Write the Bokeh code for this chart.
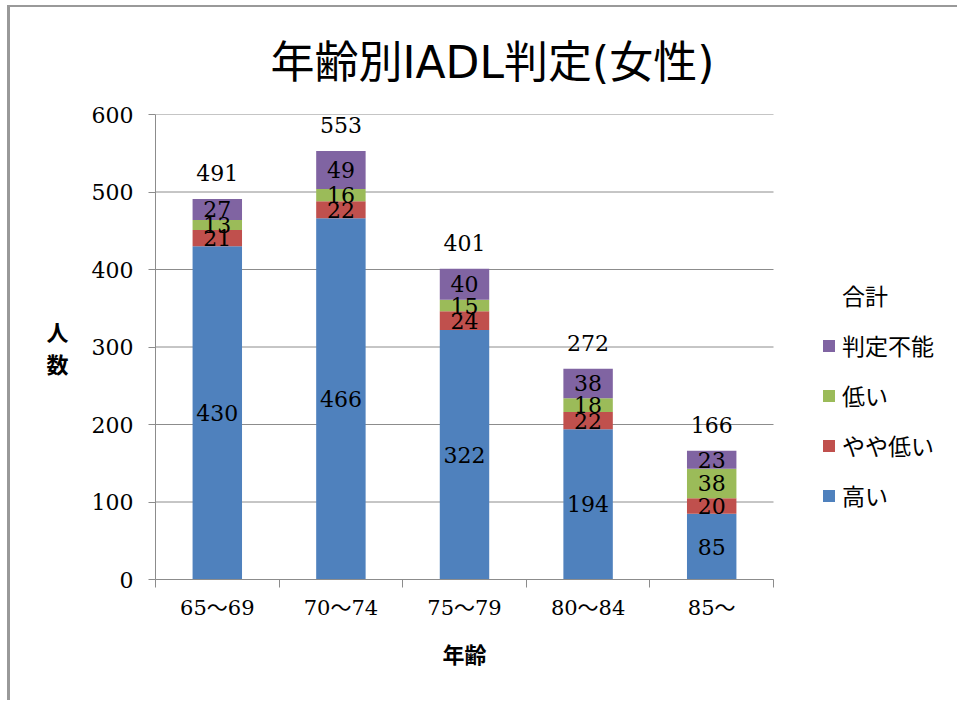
from bokeh.plotting import figure
from bokeh.models import Range1d, FixedTicker, Legend, LegendItem, ColumnDataSource, Title
from bokeh.core.properties import value
from bokeh.embed import file_html
from bokeh.resources import INLINE

categories = ["65～69", "70～74", "75～79", "80～84", "85～"]
high = [430, 466, 322, 194, 85]
slightly_low = [21, 22, 24, 22, 20]
low = [13, 16, 15, 18, 38]
undetermined = [27, 49, 40, 38, 23]
series_names = ["高い", "やや低い", "低い", "判定不能"]
series_keys = ["high", "slightly_low", "low", "undetermined"]
total_name = "合計"
colors = ["#4F81BD", "#C0504D", "#9BBB59", "#8064A2"]
y_ticks = [0, 100, 200, 300, 400, 500, 600]

SERIF = "DejaVu Serif, Noto Sans CJK JP"
SANS = "Noto Sans CJK JP"
TITLE_FONT = "DejaVu Sans, Noto Sans CJK JP"

n = len(categories)
xs = list(range(1, n + 1))
series_values = [high, slightly_low, low, undetermined]
data = {"x": xs}
for k, v in zip(series_keys, series_values):
    data[k] = v
src = ColumnDataSource(data)

FIG_W, FIG_H = 950, 695
LEFT, TOP, BOTTOM = 145, 107, 123
CAT_PX = 123.6
x_end = 0.5 + (FIG_W - LEFT) / CAT_PX

p = figure(width=FIG_W, height=FIG_H, output_backend="svg", toolbar_location=None,
           x_range=Range1d(0.5, x_end), y_range=Range1d(0, 600),
           min_border_left=LEFT, min_border_right=0, min_border_top=TOP, min_border_bottom=BOTTOM)
p.styles = {"margin-left": "10px", "margin-top": "7px", "box-shadow": "-3px -2px 0 0 #999999"}
p.outline_line_color = None
p.background_fill_color = "white"
p.border_fill_color = "white"

# title
p.title.text = "年齢別IADL判定(女性)"
p.title.align = "left"
p.title.offset = 115
p.title.standoff = 53
p.title.text_font = TITLE_FONT
p.title.text_font_size = "44px"
p.title.text_font_style = "normal"
p.title.text_color = "black"

gray = "#8c8c8c"
p.xgrid.visible = False
p.ygrid.visible = False
p.segment(x0=[0.5] * len(y_ticks), x1=[n + 0.5] * len(y_ticks), y0=y_ticks, y1=y_ticks,
          line_color=gray, line_width=1)

renderers = p.vbar_stack(series_keys, x="x", width=0.4, color=colors, source=src, line_color=None)

lx, ly, lt = [], [], []
bottoms = [0] * n
for vals in series_values:
    for i, v in enumerate(vals):
        lx.append(xs[i])
        ly.append(bottoms[i] + v / 2)
        lt.append(str(v))
        bottoms[i] += v
p.text(x=lx, y=ly, text=lt, text_align="center", text_baseline="middle",
       text_font=value(SERIF), text_font_size="22px", text_color="black")

totals = bottoms
p.text(x=xs, y=totals, text=[str(t) for t in totals], text_align="center",
       text_baseline="bottom", y_offset=-18, text_font=value(SERIF),
       text_font_size="22px", text_color="black")
total_swatch = p.vbar(x=xs, top=totals, width=0.4, fill_alpha=0, line_alpha=0)

p.yaxis.ticker = FixedTicker(ticks=y_ticks)
p.yaxis.axis_line_color = gray
p.yaxis.major_tick_line_color = gray
p.yaxis.major_tick_out = 7
p.yaxis.major_tick_in = 0
p.yaxis.minor_tick_line_color = None
p.yaxis.major_label_standoff = 15
p.yaxis.major_label_text_font = SERIF
p.yaxis.major_label_text_font_size = "22px"
p.yaxis.major_label_text_color = "black"
yax = p.yaxis[0]
if hasattr(yax, "axis_label_orientation"):
    yax.axis_label = "人\n数"
    yax.axis_label_orientation = "horizontal"
else:
    yax.axis_label = "人数"
yax.axis_label_text_font = SANS
yax.axis_label_text_font_size = "22px"
yax.axis_label_text_font_style = "bold"
yax.axis_label_text_color = "black"
yax.axis_label_text_line_height = 1.0
yax.axis_label_standoff = 20

p.xaxis.bounds = (0.5, n + 0.5)
p.xaxis.ticker = FixedTicker(ticks=xs, minor_ticks=[x - 0.5 for x in xs] + [xs[-1] + 0.5])
p.xaxis.major_label_overrides = {x: c for x, c in zip(xs, categories)}
p.xaxis.axis_line_color = gray
p.xaxis.major_tick_out = 0
p.xaxis.major_tick_in = 0
p.xaxis.major_tick_line_color = None
p.xaxis.minor_tick_line_color = gray
p.xaxis.minor_tick_out = 8
p.xaxis.minor_tick_in = 0
p.xaxis.major_label_standoff = 8
p.xaxis.major_label_text_font = SERIF
p.xaxis.major_label_text_font_size = "21px"
p.xaxis.major_label_text_color = "black"

p.add_layout(Title(text="年齢", align="left", offset=287, standoff=24,
                   text_font=SANS, text_font_size="22px", text_font_style="bold",
                   text_color="black"), "below")

items = [LegendItem(label=nm, renderers=[r]) for nm, r in zip(series_names, renderers)]
items = [LegendItem(label=total_name, renderers=[total_swatch])] + items[::-1]
legend = Legend(items=items, location=(666, 67), padding=0, margin=0,
                border_line_color=None, background_fill_alpha=0,
                label_text_font=SANS, label_text_font_size="23px", label_text_color="black",
                glyph_width=15, glyph_height=15, label_height=23, spacing=16,
                label_standoff=6)
p.add_layout(legend, "center")

open("out.html", "w").write(file_html(p, INLINE))
